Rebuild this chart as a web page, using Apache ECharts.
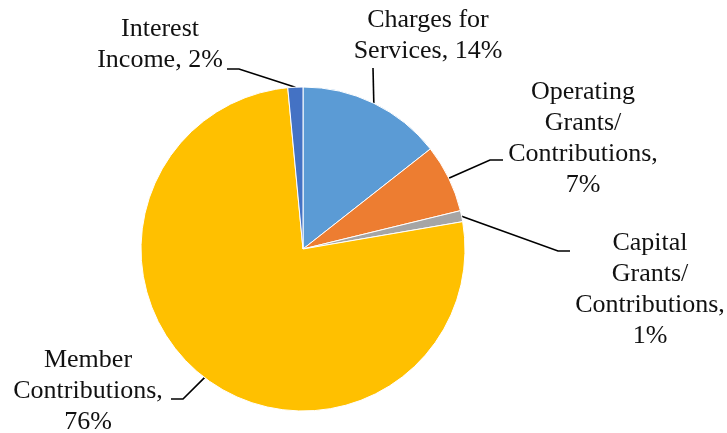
<!DOCTYPE html>
<html><head><meta charset="utf-8">
<script src="https://cdn.jsdelivr.net/npm/echarts@6/dist/echarts.min.js"></script>
<style>html,body{margin:0;padding:0;background:#fff}#c{width:727px;height:433px}</style>
</head><body><div id="c"></div>
<script>
// Data
const categories = ['Charges for Services', 'Operating Grants/Contributions', 'Capital Grants/Contributions', 'Member Contributions', 'Interest Income'];
const values = [14.4, 6.8, 1.1, 76.2, 1.5];
const labelLines = [
  ['Charges for', 'Services, '],
  ['Operating', 'Grants/', 'Contributions,', ''],
  ['Capital', 'Grants/', 'Contributions,', ''],
  ['Member', 'Contributions,', ''],
  ['Interest', 'Income, ']
];
const colors = ['#5B9BD5', '#ED7D31', '#A5A5A5', '#FFC000', '#4472C4'];

// Label placement (layout only)
const CX = 303, CY = 249, R = 162;
const labelLayoutCfg = [
  { x: 428, y: 36, knee: [373, 68], end: [373, 68] },
  { x: 583, y: 139, knee: [490, 160], end: [503, 160] },
  { x: 650, y: 290, knee: [558, 251], end: [570, 251] },
  { x: 88, y: 391, knee: [183, 399], end: [171, 399] },
  { x: 160, y: 45, knee: [239, 69], end: [227, 69] }
];

const total = values.reduce((a, b) => a + b, 0);
function anchorFor(i) {
  let cum = 0;
  for (let k = 0; k < i; k++) cum += values[k];
  const mid = (cum + values[i] / 2) / total * Math.PI * 2;
  return [CX + R * Math.sin(mid), CY - R * Math.cos(mid)];
}

const chart = echarts.init(document.getElementById('c'), null, { renderer: 'canvas' });
chart.setOption({
  animation: false,
  backgroundColor: '#fff',
  textStyle: { fontFamily: "'Liberation Serif', 'Times New Roman', serif" },
  series: [{
    type: 'pie',
    center: [CX, CY],
    radius: R,
    startAngle: 90,
    clockwise: true,
    avoidLabelOverlap: false,
    silent: true,
    data: categories.map((c, i) => ({ name: c, value: values[i], itemStyle: { color: colors[i] } })),
    itemStyle: { borderColor: '#fff', borderWidth: 1 },
    label: {
      show: true,
      position: 'outside',
      formatter: p => {
        const lines = labelLines[p.dataIndex].slice();
        lines[lines.length - 1] += Math.round(p.value / total * 100) + '%';
        return lines.join('\n');
      },
      fontFamily: "'Liberation Serif', 'Times New Roman', serif",
      fontSize: 26,
      lineHeight: 31,
      color: '#111',
      align: 'center'
    },
    labelLine: { show: true, lineStyle: { color: '#000', width: 1.6 } },
    labelLayout: function (params) {
      const i = params.dataIndex;
      const cfg = labelLayoutCfg[i];
      const a = anchorFor(i);
      return {
        x: cfg.x, y: cfg.y, align: 'center', verticalAlign: 'middle',
        labelLinePoints: [a, cfg.knee, cfg.end]
      };
    },
    emphasis: { disabled: true }
  }]
});
</script>
</body></html>
